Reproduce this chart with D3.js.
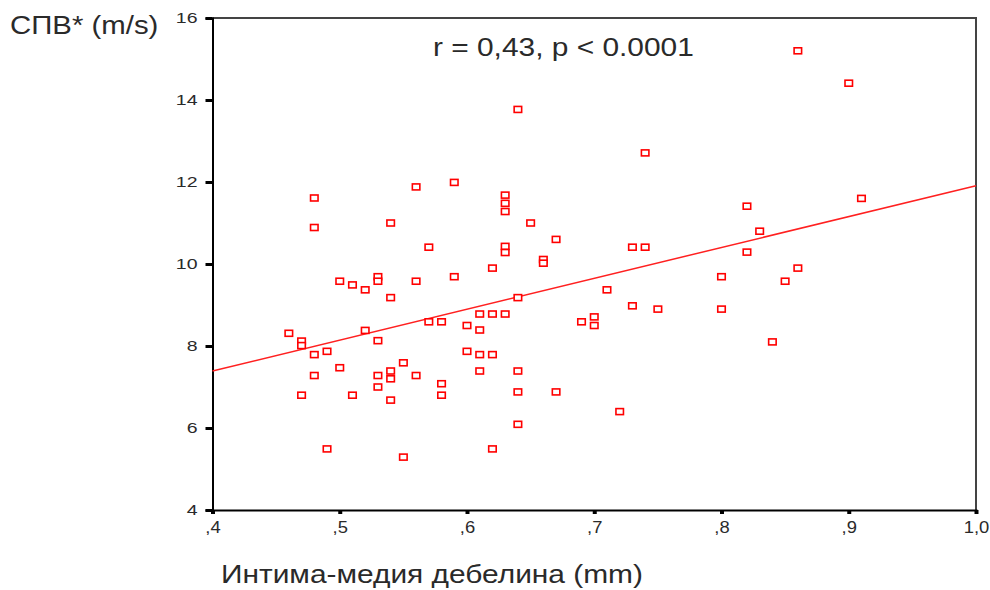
<!DOCTYPE html>
<html>
<head>
<meta charset="utf-8">
<script src="https://cdn.jsdelivr.net/npm/d3@7"></script>
<style>
  html, body { margin: 0; padding: 0; background: #fff; }
  svg { display: block; }
  text { font-family: "Liberation Sans", Arial, sans-serif; fill: #2a2a2a; }
</style>
</head>
<body>
<svg id="chart" width="990" height="590"></svg>
<script>
// ---- data ----
const imtValues = [
  0.46, 0.47, 0.47, 0.47, 0.48, 0.48, 0.48, 0.48, 0.49, 0.49,
  0.50, 0.50, 0.51, 0.51, 0.52, 0.52, 0.53, 0.53, 0.53, 0.53,
  0.53, 0.54, 0.54, 0.54, 0.54, 0.54, 0.55, 0.55, 0.56, 0.56,
  0.56, 0.57, 0.57, 0.58, 0.58, 0.58, 0.59, 0.59, 0.60, 0.60,
  0.61, 0.61, 0.61, 0.61, 0.62, 0.62, 0.62, 0.62, 0.63, 0.63,
  0.63, 0.63, 0.63, 0.63, 0.64, 0.64, 0.64, 0.64, 0.64, 0.65,
  0.66, 0.66, 0.67, 0.67, 0.69, 0.70, 0.70, 0.71, 0.72, 0.73,
  0.73, 0.74, 0.74, 0.75, 0.80, 0.80, 0.82, 0.82, 0.83, 0.84,
  0.85, 0.86, 0.86, 0.90, 0.91
];
const pwvValues = [
  8.31, 8.12, 8.01, 6.80, 11.61, 10.89, 7.79, 7.28, 7.87, 5.49,
  9.58, 7.47, 9.49, 6.80, 9.37, 8.38, 9.69, 9.58, 8.13, 7.28,
  7.00, 11.00, 9.18, 7.39, 7.20, 6.68, 7.59, 5.29, 11.88, 9.58,
  7.28, 10.41, 8.59, 8.59, 7.08, 6.80, 11.99, 9.69, 8.50, 7.87,
  8.78, 8.39, 7.79, 7.39, 9.90, 8.78, 7.79, 5.49, 11.68, 11.48,
  11.28, 10.43, 10.28, 8.78, 13.77, 9.18, 7.39, 6.88, 6.09, 11.00,
  10.11, 10.02, 10.60, 6.88, 8.59, 8.71, 8.50, 9.37, 6.40, 10.41,
  8.98, 10.41, 12.71, 8.90, 9.69, 8.90, 11.41, 10.29, 10.80, 8.10,
  9.58, 15.20, 9.90, 14.41, 11.60
];
// fitted regression line end points (x, y)
const fitX = [0.4, 1.0];
const fitY = [7.39, 11.91];

const xTicks = [0.4, 0.5, 0.6, 0.7, 0.8, 0.9, 1.0];
const xTickLabels = [",4", ",5", ",6", ",7", ",8", ",9", "1,0"];
const yTicks = [4, 6, 8, 10, 12, 14, 16];
const yTickLabels = ["4", "6", "8", "10", "12", "14", "16"];

const yTitle = "СПВ* (m/s)";
const xTitle = "Интима-медия дебелина (mm)";
const statText = "r = 0,43, p < 0.0001";

// ---- layout ----
const svg = d3.select("#chart");
const plotL = 212.5, plotR = 976, plotT = 18, plotB = 510;

const x = d3.scaleLinear().domain([0.4, 1.0]).range([plotL, plotR]);
const y = d3.scaleLinear().domain([4, 16]).range([plotB, plotT]);

// frame (top & right)
svg.append("path")
  .attr("d", `M${plotL},${plotT}H${plotR}V${plotB}`)
  .attr("fill", "none")
  .attr("stroke", "#444")
  .attr("stroke-width", 2);

// y axis
const gy = svg.append("g")
  .attr("transform", `translate(${plotL},0)`)
  .call(d3.axisLeft(y).tickValues(yTicks).tickSize(7).tickPadding(8)
        .tickFormat((d, i) => yTickLabels[i]));
gy.select(".domain").attr("stroke", "#000").attr("stroke-width", 2);
gy.selectAll(".tick line").attr("stroke", "#000").attr("stroke-width", 3);
gy.selectAll(".tick text")
  .attr("font-size", 15)
  .attr("font-family", "Liberation Sans, Arial, sans-serif")
  .attr("fill", "#111")
  .attr("transform", function () {
    const tx = +this.getAttribute("x");
    this.setAttribute("x", 0);
    return `translate(${tx},0) scale(1.3,1)`;
  });

// x axis
const gx = svg.append("g")
  .attr("transform", `translate(0,${plotB})`)
  .call(d3.axisBottom(x).tickValues(xTicks).tickSize(4).tickPadding(8)
        .tickFormat((d, i) => xTickLabels[i]));
gx.select(".domain").attr("stroke", "#000").attr("stroke-width", 2);
gx.selectAll(".tick line").attr("stroke", "#000").attr("stroke-width", 4);
gx.selectAll(".tick text")
  .attr("font-size", 16)
  .attr("font-family", "Liberation Sans, Arial, sans-serif")
  .attr("fill", "#111")
  .attr("transform", "scale(1.15,1)");

// regression line
svg.append("line")
  .attr("x1", x(fitX[0])).attr("y1", y(fitY[0]))
  .attr("x2", x(fitX[1])).attr("y2", y(fitY[1]))
  .attr("stroke", "#ff2020")
  .attr("stroke-width", 1.5);

// points
const pts = imtValues.map((v, i) => ({ x: v, y: pwvValues[i] }));
svg.append("g").selectAll("rect")
  .data(pts)
  .join("rect")
  .attr("x", d => x(d.x) - 3.75)
  .attr("y", d => y(d.y) - 3)
  .attr("width", 7.5)
  .attr("height", 6)
  .attr("fill", "#fff")
  .attr("stroke", "#ff0000")
  .attr("stroke-width", 1.6);

// texts
function stretchedText(str, tx, ty, size, sx) {
  svg.append("text")
    .attr("transform", `translate(${tx},${ty}) scale(${sx},1)`)
    .attr("font-size", size)
    .text(str);
}
stretchedText(yTitle, 10, 34, 26, 1.13);
stretchedText(statText, 433, 56, 26, 1.15);
stretchedText(xTitle, 221, 583, 26, 1.15);
</script>
</body>
</html>
